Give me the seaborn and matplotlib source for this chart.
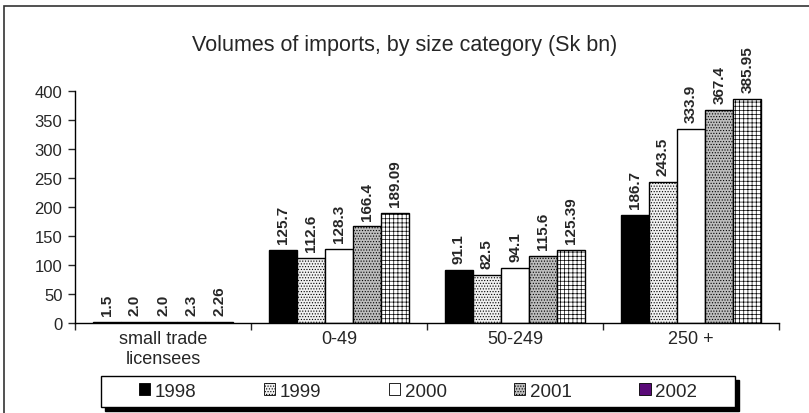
import pandas as pd
import matplotlib.pyplot as plt
import seaborn as sns
from matplotlib.patches import Patch, Rectangle

# ==========================================
# Data
# ==========================================

categories = ["small trade\nlicensees", "0-49", "50-249", "250 +"]
years = ["1998", "1999", "2000", "2001", "2002"]

v1998 = [1.5, 125.7, 91.1, 186.7]
v1999 = [2.0, 112.6, 82.5, 243.5]
v2000 = [2.0, 128.3, 94.1, 333.9]
v2001 = [2.3, 166.4, 115.6, 367.4]
v2002 = [2.26, 189.09, 125.39, 385.95]

labels1998 = ["1.5", "125.7", "91.1", "186.7"]
labels1999 = ["2.0", "112.6", "82.5", "243.5"]
labels2000 = ["2.0", "128.3", "94.1", "333.9"]
labels2001 = ["2.3", "166.4", "115.6", "367.4"]
labels2002 = ["2.26", "189.09", "125.39", "385.95"]

series = [v1998, v1999, v2000, v2001, v2002]
series_labels = [labels1998, labels1999, labels2000, labels2001, labels2002]

rows = []
for year, vals in zip(years, series):
    for cat, v in zip(categories, vals):
        rows.append({"Category": cat, "Year": year, "Value": v})
data = pd.DataFrame(rows)

# ==========================================
# Styling
# ==========================================

sns.set_style("white")
plt.rcParams["font.family"] = ["Liberation Sans", "DejaVu Sans"]
plt.rcParams["hatch.linewidth"] = 0.5

faces = ["black", "#f0f0f0", "white", "#bdbdbd", "white"]
hatches = [None, "......", None, "......", "++++"]
legend_faces = ["black", "#f0f0f0", "white", "#bdbdbd", "#5a0a78"]
legend_hatches = [None, "......", None, "......", None]

# ==========================================
# Plot
# ==========================================

fig = plt.figure(figsize=(8.09, 4.14), dpi=100)
ax = fig.add_axes([0.0927, 0.2174, 0.8703, 0.5604])

sns.barplot(
    data=data,
    x="Category",
    y="Value",
    hue="Year",
    order=categories,
    hue_order=years,
    width=0.8,
    gap=0,
    errorbar=None,
    legend=False,
    ax=ax,
)

for i, container in enumerate(ax.containers):
    for bar in container:
        bar.set_facecolor(faces[i])
        bar.set_edgecolor("black")
        bar.set_linewidth(1.0)
        if hatches[i]:
            bar.set_hatch(hatches[i])
    ax.bar_label(container, labels=series_labels[i], rotation=90,
                 padding=5, fontsize=11, fontweight="bold")

ax.set_xlim(-0.5, 3.5)
ax.set_ylim(0, 400)
ax.set_yticks(range(0, 401, 50))
ax.set_xlabel("")
ax.set_ylabel("")

for side in ["top", "right"]:
    ax.spines[side].set_visible(False)
ax.spines["left"].set_color("black")
ax.spines["bottom"].set_color("black")
ax.spines["left"].set_linewidth(1.0)
ax.spines["bottom"].set_linewidth(1.0)

ax.tick_params(axis="y", which="major", direction="out", length=5,
               width=1, labelsize=12, left=True, pad=4)
ax.tick_params(axis="x", which="major", length=0, labelsize=13, pad=5)
ax.set_xticks([-0.5, 0.5, 1.5, 2.5, 3.5], minor=True)
ax.tick_params(axis="x", which="minor", direction="out", length=5,
               width=1, bottom=True)

fig.text(0.5, 0.89, "Volumes of imports, by size category (Sk bn)",
         ha="center", va="center", fontsize=15.5)

# ==========================================
# Legend: framed box with a solid shadow, entries centred inside
# ==========================================

box_x, box_y, box_w, box_h = 101 / 809, 6 / 414, 634 / 809, 31 / 414
fig.patches.append(Rectangle((box_x + 4 / 809, box_y - 4 / 414), box_w, box_h,
                             transform=fig.transFigure, facecolor="black",
                             edgecolor="black", zorder=1))
fig.patches.append(Rectangle((box_x, box_y), box_w, box_h,
                             transform=fig.transFigure, facecolor="white",
                             edgecolor="black", linewidth=1.0, zorder=2))

handles = [
    Patch(facecolor=legend_faces[i], edgecolor="black", linewidth=0.6,
          hatch=legend_hatches[i], label=years[i])
    for i in range(len(years))
]
leg = fig.legend(
    handles=handles,
    loc="center",
    bbox_to_anchor=(box_x + box_w / 2, box_y + box_h / 2),
    ncol=5,
    fontsize=13.5,
    frameon=False,
    handlelength=0.6,
    handleheight=0.6,
    handletextpad=0.25,
    columnspacing=3.6,
    borderaxespad=0,
    borderpad=0,
)
leg.set_zorder(3)

# outer chart border
fig.patches.append(Rectangle((0.005, -0.02), 1.1, 1 - 0.017 + 0.02,
                             transform=fig.transFigure, fill=False,
                             edgecolor="#333333", linewidth=1.2))

plt.savefig("out.png", dpi=100)
